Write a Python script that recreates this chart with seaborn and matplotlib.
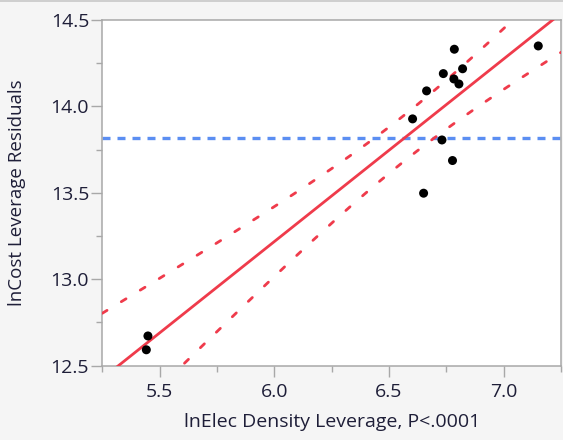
import numpy as np
import pandas as pd
import seaborn as sns
import matplotlib.pyplot as plt
from matplotlib.ticker import MultipleLocator, FixedLocator
from matplotlib.lines import Line2D

# Leverage-plot data: x = lnElec Density leverage, y = lnCost leverage residuals
elec_density_leverage = [7.151, 6.785, 6.821, 6.737, 6.783, 6.805, 6.664,
                         6.603, 6.731, 6.777, 6.651, 5.449, 5.442]
cost_leverage_resid = [14.350, 14.331, 14.218, 14.190, 14.159, 14.130, 14.090,
                       13.928, 13.806, 13.687, 13.498, 12.672, 12.592]
x_ticks = [5.5, 6.0, 6.5, 7.0]
y_ticks = [12.5, 13.0, 13.5, 14.0, 14.5]
x_label = "lnElec Density Leverage, P<.0001"
y_label = "lnCost Leverage Residuals"

# Student t 0.975 quantile, 11 degrees of freedom (n - 2)
T_975 = 2.201

df = pd.DataFrame({"x": elec_density_leverage, "y": cost_leverage_resid})

sns.set_theme(style="white")
plt.rcParams["font.family"] = ["Open Sans", "DejaVu Sans"]

BG = "#f5f5f5"
SPINE = "#a8a8a8"
TEXT = "#1e1e38"
RED = "#ef3b4b"
BLUE = "#5b8ef2"

fig = plt.figure(figsize=(5.63, 4.40), dpi=100, facecolor=BG)
ax = fig.add_axes([0.1817, 0.1689, 0.8147, 0.7856])
ax.set_facecolor("white")

xmin, xmax = 5.25, 7.25
ymin, ymax = 12.5, 14.5

# Least squares fit and 95% confidence curves for the line
x = df["x"].to_numpy()
y = df["y"].to_numpy()
n = len(x)
b1, b0 = np.polyfit(x, y, 1)
resid = y - (b0 + b1 * x)
s = np.sqrt(np.sum(resid ** 2) / (n - 2))
xbar = x.mean()
sxx = np.sum((x - xbar) ** 2)
grid = np.linspace(xmin, xmax, 300)
fit = b0 + b1 * grid
half = T_975 * s * np.sqrt(1.0 / n + (grid - xbar) ** 2 / sxx)

# Horizontal line at the mean response
ax.axhline(y.mean(), color=BLUE, lw=2.4, linestyle=(0, (2.4, 2.1)),
           dash_capstyle="butt", zorder=2)

sns.lineplot(x=grid, y=fit + half, ax=ax, color=RED, lw=2.0,
             linestyle=(0, (2.0, 6.0)), dash_capstyle="round", zorder=3)
sns.lineplot(x=grid, y=fit - half, ax=ax, color=RED, lw=2.0,
             linestyle=(0, (2.0, 6.0)), dash_capstyle="round", zorder=3)
sns.lineplot(x=grid, y=fit, ax=ax, color=RED, lw=2.0, zorder=3)

sns.scatterplot(data=df, x="x", y="y", ax=ax, color="black", s=42,
                edgecolor="none", zorder=4)

ax.set_xlim(xmin, xmax)
ax.set_ylim(ymin, ymax)
ax.xaxis.set_major_locator(FixedLocator(x_ticks))
ax.yaxis.set_major_locator(FixedLocator(y_ticks))
ax.xaxis.set_minor_locator(MultipleLocator(0.25))
ax.yaxis.set_minor_locator(MultipleLocator(0.25))
ax.set_xticklabels([f"{v:.1f}" for v in x_ticks])
ax.set_yticklabels([f"{v:.1f}" for v in y_ticks])

ax.tick_params(axis="both", which="major", direction="out", length=8,
               width=1.0, color=SPINE, labelsize=14, labelcolor=TEXT, pad=1.5,
               bottom=True, left=True)
ax.tick_params(axis="both", which="minor", direction="out", length=4.5,
               width=1.0, color=SPINE, bottom=True, left=True)
ax.tick_params(axis="x", which="major", pad=4.5)

for sp in ax.spines.values():
    sp.set_color(SPINE)
    sp.set_linewidth(1.1)
    sp.set_visible(True)

ax.set_xlabel(x_label, fontsize=14, color=TEXT)
ax.set_ylabel(y_label, fontsize=13.5, color=TEXT)
ax.xaxis.set_label_coords(0.5, -0.138)
ax.yaxis.set_label_coords(-0.166, 0.5)

# Thin frame line along the top of the panel
fig.add_artist(Line2D([0, 1], [0.997, 0.997], transform=fig.transFigure,
                      color="#c8c8c8", lw=1.2))

fig.savefig("out.png", dpi=100, facecolor=BG)
